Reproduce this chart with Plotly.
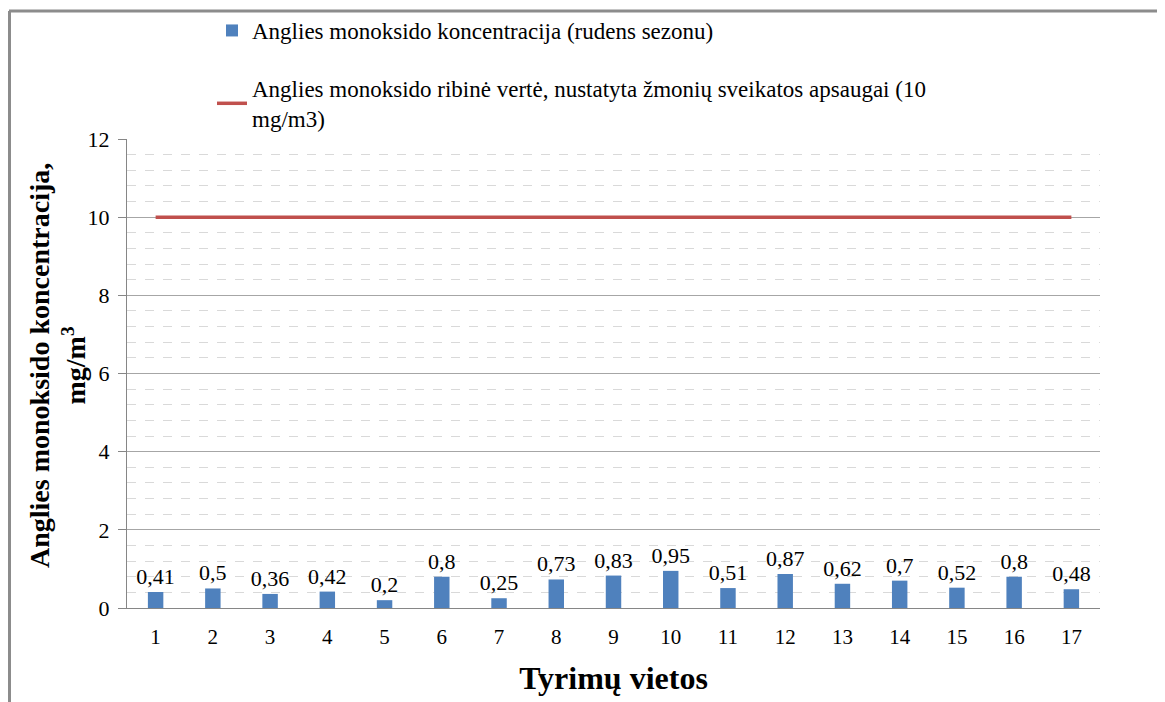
import plotly.graph_objects as go

sites = [str(i) for i in range(1, 18)]
co_values = [0.41, 0.5, 0.36, 0.42, 0.2, 0.8, 0.25, 0.73, 0.83, 0.95, 0.51, 0.87, 0.62, 0.7, 0.52, 0.8, 0.48]
limit_values = [10] * 17
bar_name = "Anglies monoksido koncentracija (rudens sezonu)"
line_name = "Anglies monoksido ribinė vertė, nustatyta žmonių sveikatos apsaugai (10<br>mg/m3)"
y_title = "<b>Anglies monoksido koncentracija,<br>mg/m<sup>3</sup></b>"
x_title = "<b>Tyrimų vietos</b>"

FONT = "Liberation Serif"

# page body has an 8px default margin; work in screen pixels and convert
OFF = 8
W, H = 1165 - OFF, 702 - OFF
L, R, T, B = 127 - OFF, 65, 139 - OFF, 94
pw, ph = W - L - R, H - T - B


def px(x):
    return (x - OFF - L) / pw


def py(y):
    return (H - B - (y - OFF)) / ph


fig = go.Figure()
fig.add_trace(go.Bar(
    x=sites, y=co_values, name=bar_name,
    marker=dict(color="#4F81BD", line=dict(width=0)),
    width=0.27,
    text=[str(v).replace(".", ",") for v in co_values],
    textposition="outside", cliponaxis=False, constraintext="none",
    textfont=dict(family=FONT, size=22, color="black"),
    legendgroup="a",
))
fig.add_trace(go.Scatter(
    x=sites, y=limit_values, name=line_name, mode="lines",
    line=dict(color="#C0504D", width=3.5),
    legendgroup="b",
))

fig.update_layout(
    width=W, height=H,
    margin=dict(l=L, r=R, t=T, b=B, autoexpand=False),
    paper_bgcolor="white", plot_bgcolor="white",
    font=dict(family=FONT, size=20, color="black"),
    showlegend=True,
    legend=dict(
        x=px(212), y=py(9), xanchor="left", yanchor="top",
        font=dict(family=FONT, size=23, color="black"),
        tracegroupgap=25, bgcolor="rgba(0,0,0,0)",
    ),
    xaxis=dict(
        type="category", range=[-0.5, 16.5],
        showline=True, linecolor="#868686", linewidth=1,
        showgrid=False, ticks="", ticklabelstandoff=10,
        tickfont=dict(family=FONT, size=21, color="black"),
        title=dict(text=x_title, font=dict(family=FONT, size=32, color="black"), standoff=18),
    ),
    yaxis=dict(
        range=[0, 12], dtick=2, tick0=0,
        showline=True, linecolor="#868686", linewidth=1,
        showgrid=True, gridcolor="#A6A6A6", gridwidth=1,
        ticks="outside", ticklen=8, tickcolor="#868686", ticklabelstandoff=4,
        tickfont=dict(family=FONT, size=22, color="black"),
        minor=dict(dtick=0.4, tick0=0, showgrid=True, gridcolor="#D9D9D9", griddash="dash", gridwidth=1, ticks=""),
        zeroline=False,
    ),
)

# y-axis title placed as rotated annotation for exact positioning
fig.add_annotation(
    text=y_title, textangle=-90, showarrow=False,
    xref="paper", yref="paper", x=px(57), y=py(366),
    xanchor="center", yanchor="middle",
    font=dict(family=FONT, size=28, color="black"),
)

# outer frame (top and left edges)
fig.add_shape(type="line", xref="paper", yref="paper",
              x0=px(9), x1=px(1165), y0=py(11), y1=py(11),
              line=dict(color="#8C8C8C", width=3), layer="above")
fig.add_shape(type="line", xref="paper", yref="paper",
              x0=px(9.5), x1=px(9.5), y0=py(11), y1=py(702),
              line=dict(color="#8C8C8C", width=3), layer="above")

fig.write_html("out.html")
